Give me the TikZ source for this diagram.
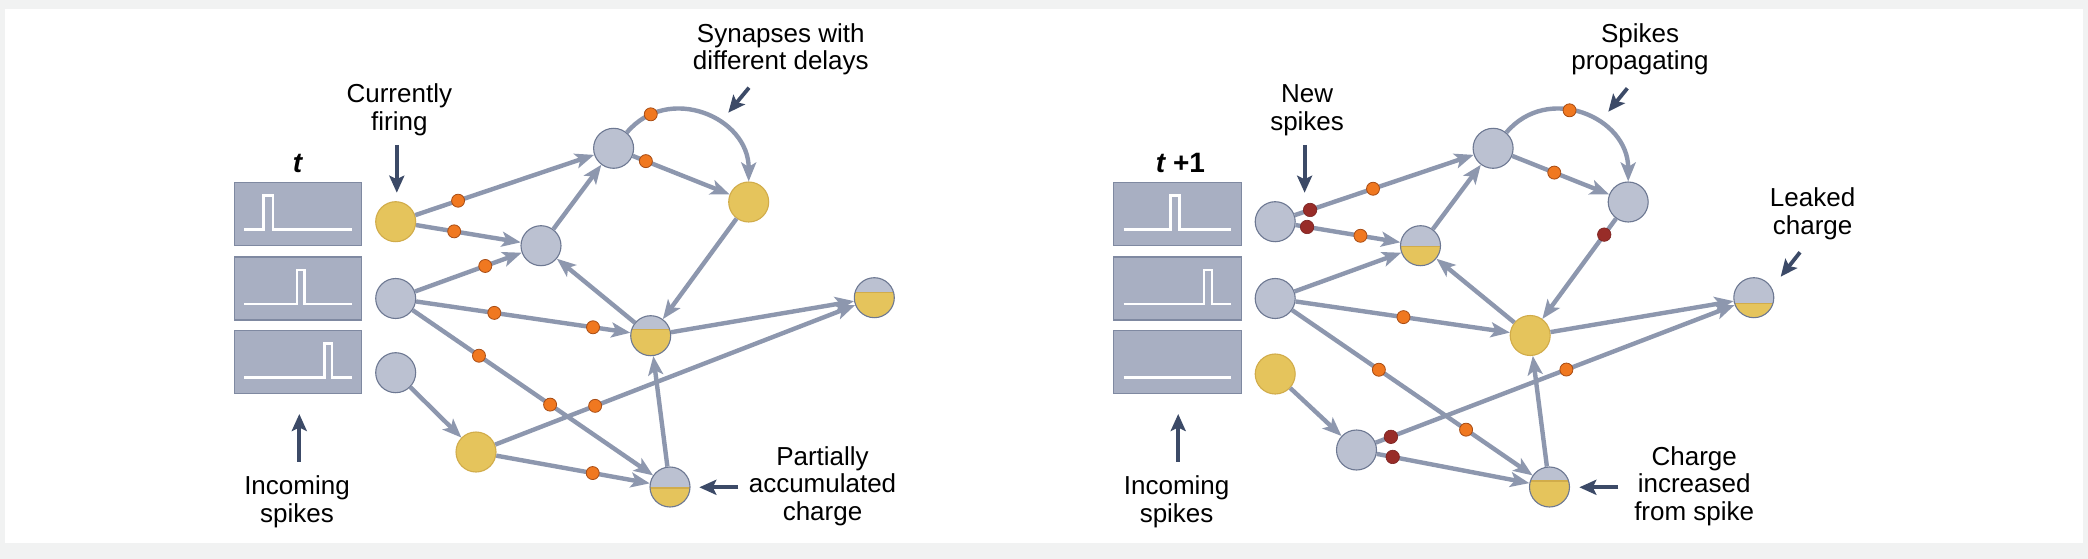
\documentclass[tikz,border=0pt]{standalone}
\usepackage{fontspec}
\setmainfont{Liberation Sans}
\usetikzlibrary{arrows.meta,calc}
\definecolor{bgout}{HTML}{F1F2F2}
\definecolor{ngray}{HTML}{BBC1D1}
\definecolor{nbord}{HTML}{6D7892}
\definecolor{nyel}{HTML}{E5C45C}
\definecolor{ybord}{HTML}{D1AC4A}
\definecolor{ecol}{HTML}{8D97AE}
\definecolor{dorange}{HTML}{F07820}
\definecolor{dorbord}{HTML}{A84C14}
\definecolor{dred}{HTML}{982C28}
\definecolor{drbord}{HTML}{7A2220}
\definecolor{ncol}{HTML}{3C4A67}
\definecolor{rfill}{HTML}{A8AFC2}
\definecolor{rbord}{HTML}{7F89A1}
\tikzset{
 neuron/.style={circle, minimum size=40pt, inner sep=0pt, fill=ngray, draw=nbord, line width=1.1pt},
 firing/.style={circle, minimum size=40pt, inner sep=0pt, fill=nyel, draw=ybord, line width=1.1pt},
 partial/.style={neuron, path picture={
   \fill[nyel] ($(path picture bounding box.center)+(-22pt,#1)$) rectangle ($(path picture bounding box.center)+(22pt,-22pt)$);
   \draw[ybord, line width=1.2pt] ($(path picture bounding box.center)+(-22pt,#1)$) -- ($(path picture bounding box.center)+(22pt,#1)$);}},
 syn/.style={draw=ecol, line width=4.4pt, -{Stealth[length=19pt,width=15pt,inset=4.5pt]}},
 odot/.style={circle, minimum size=13pt, inner sep=0pt, fill=dorange, draw=dorbord, line width=0.8pt},
 rdot/.style={circle, minimum size=13.5pt, inner sep=0pt, fill=dred, draw=drbord, line width=0.6pt},
 note/.style={draw=ncol, line width=3.8pt, -{Stealth[length=17pt,width=15pt,inset=3.5pt]}},
 lab/.style={align=center, font=\fontsize{26}{27.5}\selectfont, inner sep=0pt, anchor=base},
 ttl/.style={font=\fontsize{28}{30}\selectfont\bfseries, inner sep=0pt, anchor=base},
 rast/.style={draw=rbord, fill=rfill, line width=1.1pt},
 trace/.style={draw=white, line width=2.6pt},
}
\begin{document}
\begin{tikzpicture}[x=1pt,y=1pt]
\useasboundingbox (0,0) rectangle (2088,-559);
\fill[bgout] (0,0) rectangle (2088,-559);
\fill[white] (5,-9) rectangle (2083,-543);

% ---------------- left panel (time t) ----------------
\node[ttl] (tl) at (297.5,-172) {\itshape t};
\draw[rast] (234.3,-182.7) rectangle (361.8,-245.7);
\draw[rast] (234.3,-257) rectangle (361.8,-320);
\draw[rast] (234.3,-330.3) rectangle (361.8,-393.3);
\draw[trace] (244,-229.7) -| (263.6,-195.7) -| (272.9,-229.7) -- (351.8,-229.7);
\draw[trace] (244,-304) -| (296.8,-270) -| (304.6,-304) -- (351.8,-304);
\draw[trace] (244,-377.3) -| (324.3,-343.3) -| (332.1,-377.3) -- (351.8,-377.3);

\node[firing] (A) at (395.7,-221.7) {};
\node[neuron] (B) at (395.7,-298.5) {};
\node[neuron] (C) at (395.7,-372.7) {};
\node[neuron] (D) at (541,-245.7) {};
\node[neuron] (E) at (613.6,-148.3) {};
\node[firing] (F) at (748.7,-202) {};
\node[partial=6pt] (G) at (650.7,-335.7) {};
\node[partial=-1pt] (H) at (670,-487) {};
\node[partial=5pt] (I) at (874.3,-297.7) {};
\node[firing] (J) at (476,-452) {};

\draw[syn] (A) -- (E);
\draw[syn] (A) -- (D);
\draw[syn] (B) -- (D);
\draw[syn] (D) -- (E);
\draw[syn] (E.50) .. controls (668.3,-83.2) and (748.7,-117) .. (F.north) node[odot,pos=0.17] (la1) {};
\draw[syn] (E) -- (F);
\draw[syn] (F) -- (G);
\draw[syn] (G) -- (D);
\draw[syn] (B) -- (G);
\draw[syn] (B) -- (H);
\draw[syn] (C) -- (J);
\draw[syn] (J) -- (I);
\draw[syn] (J) -- (H);
\draw[syn] (H) -- (G);
\draw[syn] (G) -- (I);

\node[odot] (l1) at ($(A)!(455.4,-192.7)!(E)$) {};
\node[odot] (l2) at ($(A)!(455.4,-224)!(D)$) {};
\node[odot] (l3) at ($(B)!(484.3,-263.3)!(D)$) {};
\node[odot] (l4) at ($(E)!(648.7,-154)!(F)$) {};
\node[odot] (l5) at ($(B)!(494.6,-311)!(G)$) {};
\node[odot] (l6) at ($(B)!(592.9,-328.3)!(G)$) {};
\node[odot] (l7) at ($(B)!(484.3,-348)!(H)$) {};
\node[odot] (l8) at ($(B)!(554,-399)!(H)$) {};
\node[odot] (l9) at ($(J)!(592.9,-400)!(I)$) {};
\node[odot] (l10) at ($(J)!(592.9,-472)!(H)$) {};

\node[lab] (tcur) at (399.3,-130.5) {Currently\\firing};
\coordinate (cf1) at (396.8,-145); \coordinate (cf2) at (396.8,-192.7);
\draw[note] (cf1) -- (cf2);
\node[lab] (tsyn) at (780.8,-70) {Synapses with\\different delays};
\coordinate (sy1) at (749,-87.7); \coordinate (sy2) at (728.3,-112.7);
\draw[note] (sy1) -- (sy2);
\node[lab] (tinc) at (297,-522) {Incoming\\spikes};
\coordinate (in1) at (299.3,-461.7); \coordinate (in2) at (299.3,-414);
\draw[note] (in1) -- (in2);
\node[lab] (tpar) at (822.5,-520) {Partially\\accumulated\\charge};
\coordinate (pa1) at (738.3,-487.3); \coordinate (pa2) at (699.3,-487.3);
\draw[note] (pa1) -- (pa2);

% ---------------- right panel (time t+1) ----------------
\begin{scope}[xshift=879.5pt]
\node[ttl] (tr) at (300.9,-172) {\itshape t\upshape{} +1};
\draw[rast] (234.3,-182.7) rectangle (361.8,-245.7);
\draw[rast] (234.3,-257) rectangle (361.8,-320);
\draw[rast] (234.3,-330.3) rectangle (361.8,-393.3);
\draw[trace] (244,-229.7) -| (291.2,-195.7) -| (300.1,-229.7) -- (351.8,-229.7);
\draw[trace] (244,-304) -| (324.4,-270) -| (332.3,-304) -- (351.8,-304);
\draw[trace] (244,-377.3) -- (351.8,-377.3);

\node[neuron] (rA) at (395.7,-221.7) {};
\node[neuron] (rB) at (395.7,-298.5) {};
\node[firing] (rC) at (395.7,-374) {};
\node[partial=-1pt] (rD) at (541,-245.7) {};
\node[neuron] (rE) at (613.6,-148.3) {};
\node[neuron] (rF) at (748.7,-202) {};
\node[firing] (rG) at (650.7,-335.5) {};
\node[partial=6pt] (rH) at (670,-487) {};
\node[partial=-6pt] (rI) at (874.3,-297.7) {};
\node[neuron] (rJ) at (477,-450) {};

\draw[syn] (rA) -- (rE);
\draw[syn] (rA) -- (rD);
\draw[syn] (rB) -- (rD);
\draw[syn] (rD) -- (rE);
\draw[syn] (rE.50) .. controls (668.3,-83.2) and (748.7,-117) .. (rF.north) node[odot,pos=0.415] (ra1) {};
\draw[syn] (rE) -- (rF);
\draw[syn] (rF) -- (rG);
\draw[syn] (rG) -- (rD);
\draw[syn] (rB) -- (rG);
\draw[syn] (rB) -- (rH);
\draw[syn] (rC) -- (rJ);
\draw[syn] (rJ) -- (rI);
\draw[syn] (rJ) -- (rH);
\draw[syn] (rH) -- (rG);
\draw[syn] (rG) -- (rI);

\node[rdot] (r1) at ($(rA)!(428,-202.3)!(rE)$) {};
\node[odot] (r2) at ($(rA)!(491.5,-182.7)!(rE)$) {};
\node[rdot] (r3) at ($(rA)!(429.1,-217.7)!(rD)$) {};
\node[odot] (r4) at ($(rA)!(481.7,-231.3)!(rD)$) {};
\node[odot] (r5) at ($(rE)!(677.5,-165.7)!(rF)$) {};
\node[rdot] (r6) at ($(rF)!(722.5,-233)!(rG)$) {};
\node[odot] (r7) at ($(rB)!(523.8,-318.3)!(rG)$) {};
\node[odot] (r8) at ($(rB)!(503.8,-363.3)!(rH)$) {};
\node[odot] (r9) at ($(rB)!(590.5,-424)!(rH)$) {};
\node[rdot] (r10) at ($(rJ)!(509.2,-431)!(rI)$) {};
\node[odot] (r11) at ($(rJ)!(684.5,-363.3)!(rI)$) {};
\node[rdot] (r12) at ($(rJ)!(512.8,-459)!(rH)$) {};
\end{scope}

\node[lab] (tnew) at (1307.1,-130.5) {New\\spikes};
\coordinate (nw1) at (1304.6,-145); \coordinate (nw2) at (1304.6,-192.7);
\draw[note] (nw1) -- (nw2);
\node[lab] (tprop) at (1640,-70) {Spikes\\propagating};
\coordinate (pr1) at (1627.3,-88.3); \coordinate (pr2) at (1608.3,-111.7);
\draw[note] (pr1) -- (pr2);
\node[lab] (tleak) at (1812.6,-234) {Leaked\\charge};
\coordinate (lk1) at (1800,-252.3); \coordinate (lk2) at (1780.7,-276.7);
\draw[note] (lk1) -- (lk2);
\node[lab] (tinc2) at (1176.6,-522) {Incoming\\spikes};
\coordinate (ri1) at (1178.2,-461.7); \coordinate (ri2) at (1178.2,-414);
\draw[note] (ri1) -- (ri2);
\node[lab] (tchg) at (1694.2,-520) {Charge\\increased\\from spike};
\coordinate (ch1) at (1618.3,-487.3); \coordinate (ch2) at (1579.3,-487.3);
\draw[note] (ch1) -- (ch2);
\end{tikzpicture}
\end{document}
